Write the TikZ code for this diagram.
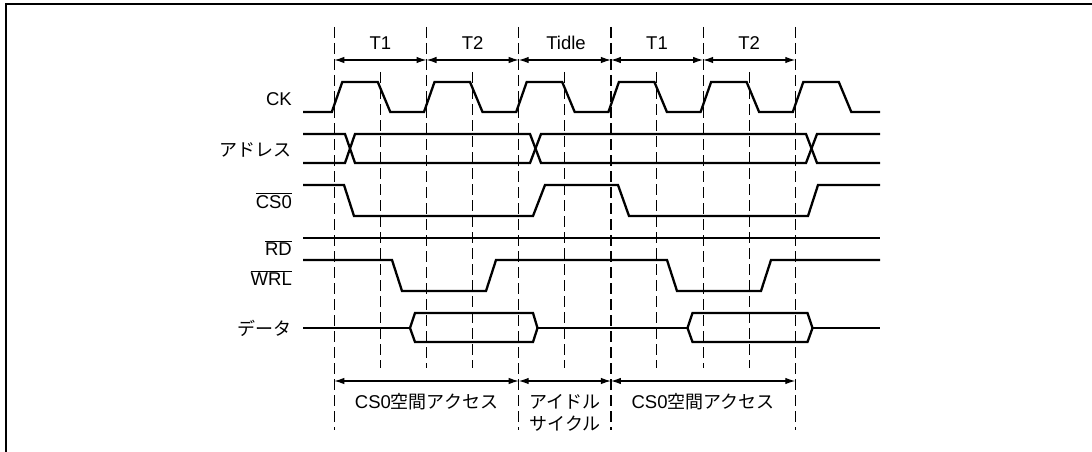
\documentclass[tikz,border=0pt]{standalone}
\usepackage{fontspec}
\setmainfont{Liberation Sans}
\newfontfamily\jp{Noto Sans CJK JP}
\usetikzlibrary{arrows.meta}
\begin{document}
\begin{tikzpicture}[x=1pt,y=-1pt,
  sig/.style={line width=2.3pt, line join=miter},
  guide/.style={line width=1.2pt, dash pattern=on 11pt off 5pt},
  span/.style={line width=1.2pt, {Latex[length=10pt,width=6.5pt]}-{Latex[length=10pt,width=6.5pt]}},
  lbl/.style={font=\fontsize{18.5}{22}\selectfont, inner sep=0pt},
  lbljp/.style={font=\fontsize{18}{22}\selectfont\jp, inner sep=0pt}]
\useasboundingbox (0,0) rectangle (1092,452);
\fill[white] (0,0) rectangle (1092,452);
% frame
\draw[line width=2pt] (6,453) -- (6,4) -- (1093,4);

% dashed guides
\foreach \x in {334.3,518.7,610.9,795.3} \draw[guide] (\x,27) -- (\x,430);
\foreach \x in {426.5,703.1} \draw[guide] (\x,27) -- (\x,368);
\foreach \x in {380.4,472.6,564.8,656.8,749.2} \draw[guide] (\x,72) -- (\x,368);

% top period arrows
\coordinate (m0t) at (334.3,60);
\coordinate (m1t) at (426.5,60);
\coordinate (m2t) at (518.7,60);
\coordinate (m3t) at (610.9,60);
\coordinate (m4t) at (703.1,60);
\coordinate (m5t) at (795.3,60);
\draw[span] (m0t) -- (m1t);
\draw[span] (m1t) -- (m2t);
\draw[span] (m2t) -- (m3t);
\draw[span] (m3t) -- (m4t);
\draw[span] (m4t) -- (m5t);
\node[lbl, anchor=base] (p1) at (380.4,49.3) {T1};
\node[lbl, anchor=base] (p2) at (472.6,49.3) {T2};
\node[lbl, anchor=base] (p3) at (566,49.3) {Tidle};
\node[lbl, anchor=base] (p4) at (657,49.3) {T1};
\node[lbl, anchor=base] (p5) at (749.2,49.3) {T2};

% signal labels
\node[lbl, anchor=base east] (lck) at (292,105) {CK};
\node[lbljp, anchor=east] (ladr) at (292,150) {アドレス};
\node[lbl, anchor=base east] (lcs) at (292,208) {$\overline{\mbox{CS0}}$};
\node[lbl, anchor=base east] (lrd) at (292,255) {$\overline{\mbox{RD}}$};
\node[lbl, anchor=base east] (lwr) at (292,285) {$\overline{\mbox{WRL}}$};
\node[lbljp, anchor=east] (ldat) at (292,328) {データ};

% CK
\draw[sig] (303,112) -- (331.8,112) -- (342.3,82) -- (377.8,82) -- (390.3,112)
  -- (424,112) -- (434.5,82) -- (470,82) -- (482.5,112)
  -- (516.2,112) -- (526.7,82) -- (562.2,82) -- (574.7,112)
  -- (608.4,112) -- (618.9,82) -- (654.4,82) -- (666.9,112)
  -- (700.6,112) -- (711.1,82) -- (746.6,82) -- (759.1,112)
  -- (792.8,112) -- (803.3,82) -- (838.8,82) -- (851.3,112) -- (880,112);

% address
\draw[sig] (303,134) -- (345,134) -- (355,163) -- (530,163) -- (541,134) -- (806,134) -- (817,163) -- (880,163);
\draw[sig] (303,163) -- (345,163) -- (355,134) -- (530,134) -- (541,163) -- (806,163) -- (817,134) -- (880,134);

% CS0
\draw[sig] (303,185) -- (344,185) -- (354,216) -- (533,216) -- (545,185) -- (618,185) -- (629,216) -- (808,216) -- (818,185) -- (880,185);

% RD
\draw[sig] (303,238) -- (880,238);

% WRL
\draw[sig] (303,260) -- (392,260) -- (402,291) -- (486,291) -- (496,260) -- (667,260) -- (677,291) -- (761,291) -- (771,260) -- (880,260);

% data
\draw[sig] (303,328) -- (410,328);
\draw[sig] (410,328) -- (415,313) -- (533,313) -- (537.5,328) -- (533,342) -- (415,342) -- cycle;
\draw[sig] (537.5,328) -- (687.5,328);
\draw[sig] (687.5,328) -- (692.5,313) -- (807.5,313) -- (812.5,328) -- (807.5,342) -- (692.5,342) -- cycle;
\draw[sig] (812.5,328) -- (880,328);

% bottom spans
\coordinate (m0b) at (334.3,381);
\coordinate (m2b) at (518.7,381);
\coordinate (m3b) at (610.9,381);
\coordinate (m5b) at (795.3,381);
\draw[span] (m0b) -- (m2b);
\draw[span] (m2b) -- (m3b);
\draw[span] (m3b) -- (m5b);
\node[lbl] (acc1) at (426.5,401.5) {CS0{\jp\fontsize{18}{22}\selectfont 空間アクセス}};
\node[lbljp] (idl1) at (565,401.5) {アイドル};
\node[lbljp] (idl2) at (565,424) {サイクル};
\node[lbl] (acc2) at (703.1,401.5) {CS0{\jp\fontsize{18}{22}\selectfont 空間アクセス}};
\end{tikzpicture}
\end{document}
